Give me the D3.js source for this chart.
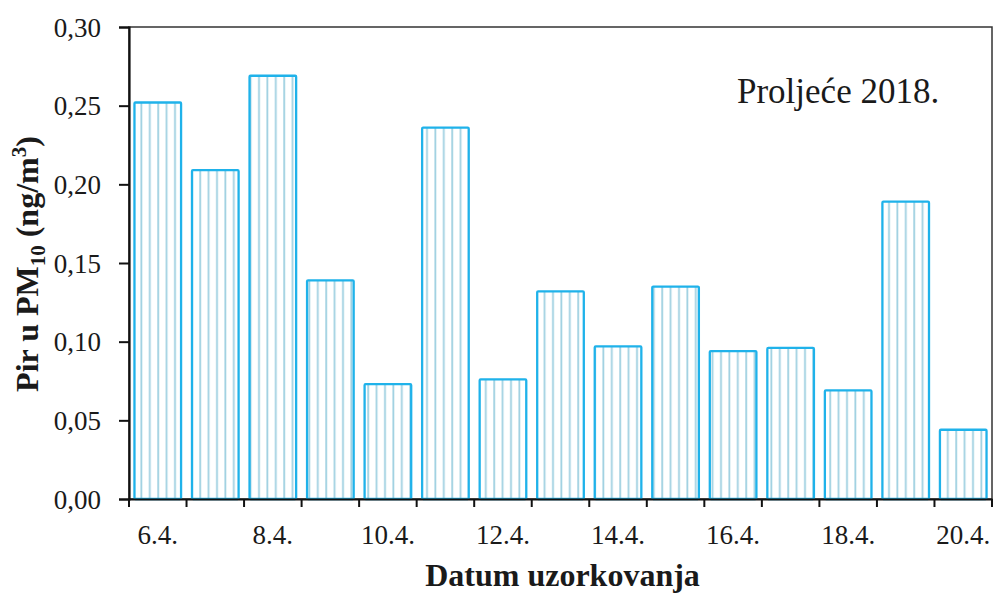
<!DOCTYPE html>
<html>
<head>
<meta charset="utf-8">
<script src="https://cdn.jsdelivr.net/npm/d3@7"></script>
<style>
  body { margin: 0; background: #fff; }
  svg text { font-family: "Liberation Serif", Tinos, "Times New Roman", Times, "DejaVu Serif", serif !important; fill: #1a1a1a; }
</style>
</head>
<body>
<div class="chart"></div>
<script>
var svgWidth = 994;
var svgHeight = 595;

var margin = { top: 27, right: 2, bottom: 96, left: 129 };
var width = svgWidth - margin.left - margin.right;
var height = svgHeight - margin.top - margin.bottom;

var serif = "'Liberation Serif', Tinos, 'Times New Roman', Times, 'DejaVu Serif', serif";

// data
var dates = ["6.4.", "7.4.", "8.4.", "9.4.", "10.4.", "11.4.", "12.4.", "13.4.",
  "14.4.", "15.4.", "16.4.", "17.4.", "18.4.", "19.4.", "20.4."];
var pyrene = [0.252, 0.209, 0.269, 0.139, 0.073, 0.236, 0.076, 0.132,
  0.097, 0.135, 0.094, 0.096, 0.069, 0.189, 0.044];
var yTicks = [0, 0.05, 0.10, 0.15, 0.20, 0.25, 0.30];

var svg = d3.select(".chart")
  .append("svg")
  .attr("width", svgWidth)
  .attr("height", svgHeight)
  .attr("font-family", serif);

// vertical hatch fill
var defs = svg.append("defs");
var pattern = defs.append("pattern")
  .attr("id", "hatch")
  .attr("patternUnits", "userSpaceOnUse")
  .attr("width", 8.4)
  .attr("height", 10);
pattern.append("rect")
  .attr("width", 8.4)
  .attr("height", 10)
  .attr("fill", "#fff");
pattern.append("line")
  .attr("x1", 4).attr("x2", 4)
  .attr("y1", 0).attr("y2", 10)
  .attr("stroke", "#9fd1e1")
  .attr("stroke-width", 1.8);

var chartGroup = svg.append("g")
  .attr("transform", `translate(${margin.left}, ${margin.top})`);

var xScale = d3.scaleBand()
  .domain(dates)
  .range([0, width])
  .paddingInner(0.19)
  .paddingOuter(0.095);

var yScale = d3.scaleLinear()
  .domain([0, 0.30])
  .range([height, 0]);

var fmt = d => d3.format(".2f")(d).replace(".", ",");

// frame (top and right)
chartGroup.append("rect")
  .attr("x", 0)
  .attr("y", 0)
  .attr("width", width)
  .attr("height", height)
  .attr("fill", "none")
  .attr("stroke", "#333")
  .attr("stroke-width", 1.5);

// bars
chartGroup.selectAll(".bar")
  .data(pyrene)
  .enter()
  .append("rect")
  .attr("class", "bar")
  .attr("x", (d, i) => xScale(dates[i]))
  .attr("y", d => yScale(d))
  .attr("width", xScale.bandwidth())
  .attr("height", d => height - yScale(d))
  .attr("fill", "url(#hatch)")
  .attr("stroke", "#1fb2ea")
  .attr("stroke-width", 2.3)
  .attr("rx", 1);

// y axis
var leftAxis = d3.axisLeft(yScale)
  .tickValues(yTicks)
  .tickSize(10)
  .tickPadding(18)
  .tickFormat(fmt);

var yAxis = chartGroup.append("g")
  .call(leftAxis)
  .attr("font-family", serif);
yAxis.select(".domain").attr("stroke", "#111").attr("stroke-width", 2.2);
yAxis.selectAll(".tick line").attr("stroke", "#111").attr("stroke-width", 2);
yAxis.selectAll(".tick text")
  .style("font-size", "27px")
  .attr("dy", "0.34em");

// x axis: labels on every other date, ticks at band boundaries
var bottomAxis = d3.axisBottom(xScale)
  .tickSize(0)
  .tickPadding(26)
  .tickFormat((d, i) => i % 2 === 0 ? d : "");

var xAxis = chartGroup.append("g")
  .attr("transform", `translate(0, ${height})`)
  .call(bottomAxis)
  .attr("font-family", serif);
xAxis.select(".domain").attr("stroke", "#111").attr("stroke-width", 2.2);
xAxis.selectAll(".tick text").style("font-size", "27px");

var step = xScale.step();
var bounds = dates.map(d => xScale(d) - step * xScale.paddingInner() / 2).concat([width]);
xAxis.selectAll(".bound")
  .data(bounds)
  .enter()
  .append("line")
  .attr("class", "bound")
  .attr("x1", d => d).attr("x2", d => d)
  .attr("y1", 0).attr("y2", 8)
  .attr("stroke", "#111")
  .attr("stroke-width", 2);

// axis titles
chartGroup.append("text")
  .attr("x", width / 2 + 2)
  .attr("y", height + 87)
  .attr("text-anchor", "middle")
  .style("font-size", "32px")
  .style("font-weight", "bold")
  .text("Datum uzorkovanja");

var yLabel = svg.append("text")
  .attr("transform", `translate(38, 264) rotate(-90)`)
  .attr("text-anchor", "middle")
  .style("font-size", "32px")
  .style("font-weight", "bold");
yLabel.append("tspan").text("Pir u PM");
yLabel.append("tspan").attr("dy", 7).style("font-size", "21px").text("10");
yLabel.append("tspan").attr("dy", -7).text(" (ng/m");
yLabel.append("tspan").attr("dy", -12).style("font-size", "21px").text("3");
yLabel.append("tspan").attr("dy", 12).text(")");

// season label
svg.append("text")
  .attr("x", 737)
  .attr("y", 103)
  .style("font-size", "35px")
  .text("Proljeće 2018.");
</script>
</body>
</html>
